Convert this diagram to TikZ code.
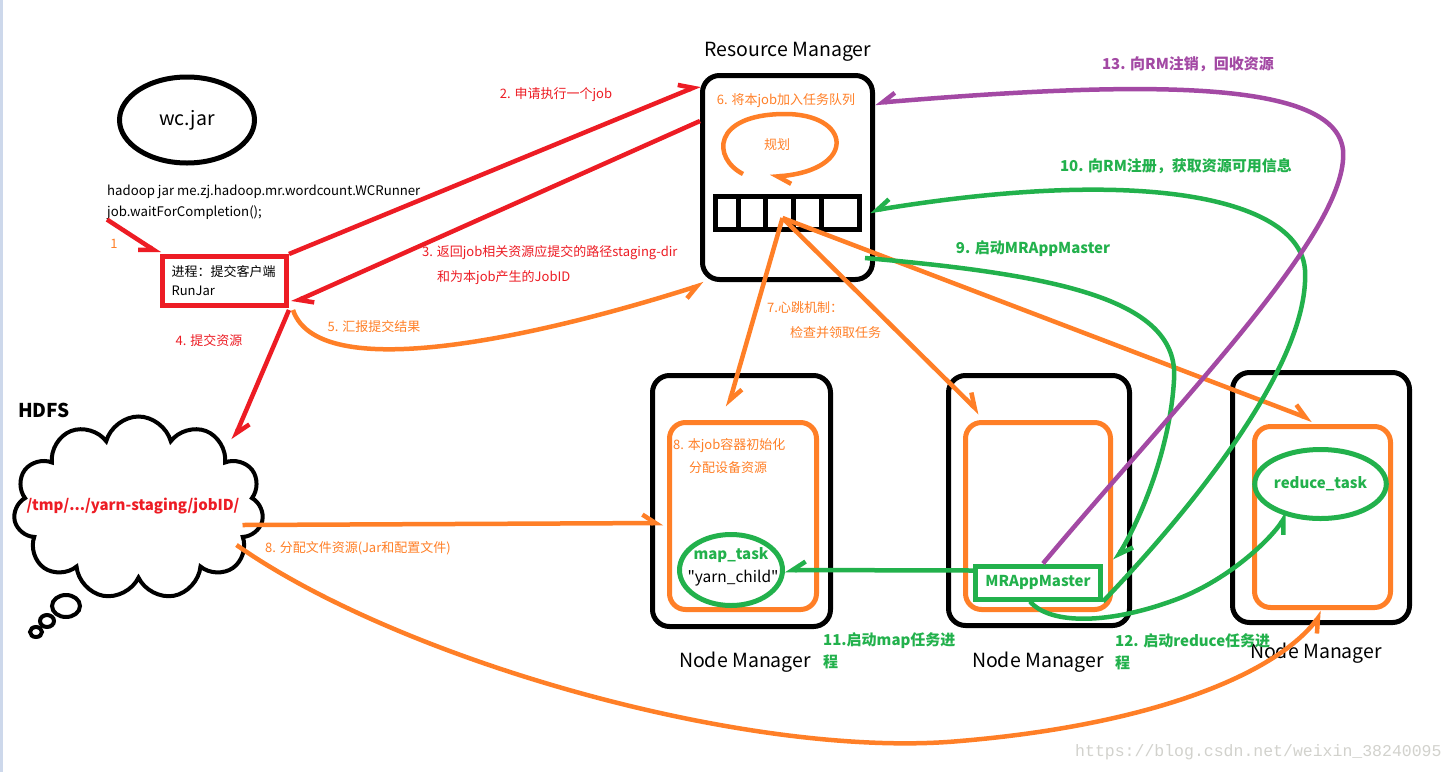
\documentclass[tikz,border=0pt]{standalone}
\usepackage{fontspec}
\setmainfont{Noto Sans CJK SC}
\newfontfamily\plainfont{Noto Sans CJK SC}
\newfontfamily\wmfont{Liberation Mono}
\usetikzlibrary{arrows.meta,calc,shapes.geometric,shapes.symbols}

\definecolor{pred}{RGB}{237,28,36}
\definecolor{porange}{RGB}{255,127,39}
\definecolor{pgreen}{RGB}{34,177,76}
\definecolor{ppurple}{RGB}{163,73,164}
\definecolor{wmgray}{RGB}{210,210,205}
\definecolor{edgeblue}{RGB}{205,216,235}

\tikzset{
  box/.style={draw, line width=5pt, rounded corners=17pt, inner sep=0pt},
  obox/.style={draw=porange, line width=5pt, rounded corners=16pt, inner sep=0pt},
  hand/.style={line width=4.5pt, -{Straight Barb[harpoon, length=13pt, width=17pt]}},
  handr/.style={line width=4.5pt, -{Straight Barb[harpoon, swap, length=13pt, width=17pt]}},
  lbl/.style={inner sep=0pt, font=\fontsize{13}{25}\selectfont},
  glbl/.style={inner sep=0pt, text=pgreen, font=\bfseries\fontsize{15}{22}\selectfont},
  mgr/.style={inner sep=0pt, font=\fontsize{19.5}{24}\selectfont},
}

\begin{document}
\begin{tikzpicture}[x=1pt, y=-1pt]
    \useasboundingbox (0,0) rectangle (1456,772);
    \fill[white] (0,0) rectangle (1456,772);
    \fill[edgeblue] (0,0) rectangle (3,772);

    % client
    \node[draw, ellipse, line width=5pt, minimum width=135pt, minimum height=86pt, mgr] (wcjar) at (187,120) {wc.jar};
    \node[lbl, font=\fontsize{13.2}{21}\selectfont, align=left, anchor=west] (cmd) at (107,202) {hadoop jar me.zj.hadoop.mr.wordcount.WCRunner\\job.waitForCompletion();};
    \node[lbl, text=porange] (one) at (114,244) {1};
    \node[draw=pred, line width=5pt, lbl, font=\fontsize{13}{19}\selectfont, minimum width=124pt, minimum height=49pt, text width=106pt, align=left] (client) at (224.5,281) {进程：提交客户端\\RunJar};

    % resource manager
    \node[box, minimum width=170pt, minimum height=204pt] (rm) at (787.5,177.5) {};
    \node[mgr] (rmname) at (788,52) {Resource Manager};
    \node[lbl, text=porange] (enqueue) at (786,101) {6. 将本job加入任务队列};
    \node[lbl, text=porange] (plan) at (777,145) {规划};
    \node[draw, line width=5pt, minimum width=144pt, minimum height=33pt, inner sep=0pt] (queue) at (787.5,213) {};
    \foreach \d in {25,52,80,108}
        \draw[line width=5pt] ($(queue.north west)+(\d,0)$) -- ($(queue.south west)+(\d,0)$);
    \draw[hand, draw=porange] ($(plan)+(-34,29)$) .. controls ($(plan)+(-65,13)$) and ($(plan)+(-65,-30)$) .. ($(plan)+(6,-31)$)
        .. controls ($(plan)+(75,-32)$) and ($(plan)+(81,25)$) .. ($(plan)+(-7,32)$);

    % HDFS
    \node[inner sep=0pt, font=\bfseries\fontsize{19}{23}\selectfont] (hdfsname) at (44,410) {HDFS};
    \node[cloud, draw, line width=4pt, cloud puffs=11, aspect=1.4, minimum width=250pt, minimum height=183pt, inner sep=0pt] (hdfs) at (138.5,508) {};
    \node[glbl, text=pred] (stagingdir) at (133,506) {/tmp/.../yarn-staging/jobID/};
    \draw[line width=4pt] (66,606) ellipse [x radius=14, y radius=11];
    \draw[line width=4pt] (47,621) ellipse [x radius=7, y radius=6];
    \draw[line width=4pt] (36,632) ellipse [x radius=6, y radius=5];

    % node managers
    \node[box, minimum width=178pt, minimum height=251pt] (nm1) at (741.5,501) {};
    \node[obox, minimum width=147pt, minimum height=187pt] (nm1in) at (743,516) {};
    \node[box, minimum width=181pt, minimum height=250pt] (nm2) at (1039,500.5) {};
    \node[obox, minimum width=145pt, minimum height=187pt] (nm2in) at (1038,516) {};
    \node[box, minimum width=177pt, minimum height=250pt] (nm3) at (1321,497.5) {};
    \node[obox, minimum width=136pt, minimum height=181pt] (nm3in) at (1322.5,517) {};
    \node[mgr] (nm1name) at (745,662) {Node Manager};
    \node[mgr] (nm2name) at (1038,662) {Node Manager};
    \node[mgr] (nm3name) at (1316,653) {Node Manager};

    \node[lbl, font=\fontsize{13}{23}\selectfont, text=porange, align=left, anchor=west] (init) at (673,456.5) {8. 本job容器初始化\\\hspace*{16pt}分配设备资源};
    \node[draw=pgreen, ellipse, line width=5pt, minimum width=103pt, minimum height=71pt, inner sep=0pt] (maptask) at (731,570) {};
    \node[glbl] (mapname) at (731,555) {map\_task};
    \node[lbl, font=\plainfont\fontsize{15.5}{20}\selectfont] (yarnchild) at (733,578) {"yarn\_child"};
    \node[draw=pgreen, line width=5pt, minimum width=125pt, minimum height=33pt, glbl] (mram) at (1038,582.5) {MRAppMaster};
    \node[draw=pgreen, ellipse, line width=5pt, minimum width=104pt, minimum height=69pt, glbl] (reduce) at (1320.5,484) {reduce\_task};

    % labels
    \node[lbl, text=pred] (l2) at (556,95) {2. 申请执行一个job};
    \node[lbl, text=pred, align=left, anchor=west] (l3) at (422,265.5) {3. 返回job相关资源应提交的路径staging-dir\\\hspace*{15pt}和为本job产生的JobID};
    \node[lbl, text=pred] (l4) at (209,341) {4. 提交资源};
    \node[lbl, text=porange] (l5) at (374,327) {5. 汇报提交结果};
    \node[lbl, text=porange, align=left, anchor=west] (l7) at (767,320.5) {7.心跳机制：\\\hspace*{23pt}检查并领取任务};
    \node[lbl, text=porange, anchor=west] (l8) at (265,548) {8. 分配文件资源(Jar和配置文件)};
    \node[glbl] (l9) at (1033,249) {9. 启动MRAppMaster};
    \node[glbl] (l10) at (1176,166) {10. 向RM注册，获取资源可用信息};
    \node[glbl, align=left, anchor=west] (l11) at (823,651) {11.启动map任务进\\程};
    \node[glbl, align=left, anchor=west] (l12) at (1115,651.5) {12. 启动reduce任务进\\程};
    \node[glbl, text=ppurple] (l13) at (1188,64) {13. 向RM注销，回收资源};

    \node[inner sep=0pt, text=wmgray, font=\wmfont\fontsize{16.5}{20}\selectfont, anchor=west] (wm) at (1075,752) {https://blog.csdn.net/weixin\_38240095};

    % steps 1-5
    \draw[handr, draw=pred] (cmd.south west) -- (client.north west);
    \draw[hand, draw=pred] (client.north east) -- ($(rm.north west)+(0,12)$);
    \draw[hand, draw=pred] ($(rm.north west)+(0,48)$) -- ($(client.south east)+(3,-5)$);
    \draw[hand, draw=pred] ($(client.south east)+(0,2)$) -- ($(hdfs.center)+(95,-68)$);
    \draw[handr, draw=porange] ($(client.south east)+(4,2)$) .. controls (320,390) and (560,330) .. ($(rm.south west)+(4,2)$);

    % heartbeat
    \draw[hand, draw=porange] ($(queue)+(-5,5)$) -- ($(nm1in.north)+(-15,-13)$);
    \draw[hand, draw=porange] ($(queue)+(-5,5)$) -- ($(nm2in.north west)+(17,-7)$);
    \draw[hand, draw=porange] ($(queue)+(-5,5)$) -- ($(nm3in.north)+(-10,-4)$);

    % resources from HDFS
    \draw[hand, draw=porange] ($(hdfs.center)+(104,17)$) -- ($(nm1in.west)+(-4,7)$);
    \draw[handr, draw=porange] ($(hdfs.center)+(98,37)$) .. controls (400,660) and (750,760) .. (960,741)
        .. controls (1150,725) and (1275,675) .. ($(nm3in.south)+(0,2)$);

    % app master
    \draw[hand, draw=pgreen] ($(rm.south east)+(-10,-24)$) .. controls (1060,275) and (1180,300) .. (1174,380)
        .. controls (1170,450) and (1140,520) .. ($(mram.north east)+(12,-3)$);
    \draw[handr, draw=pgreen] (mram.south east) .. controls (1200,500) and (1310,360) .. (1305,270)
        .. controls (1300,200) and (1150,165) .. ($(queue.east)+(8,-2)$);
    \draw[handr, draw=pgreen] ($(mram.west)+(0,-12)$) -- (maptask.east);
    \draw[handr, draw=pgreen] ($(mram.south)+(-8,0)$) .. controls (1050,625) and (1110,625) .. (1180,598)
        .. controls (1230,578) and (1270,540) .. ($(reduce.center)+(-33,29)$);
    \draw[handr, draw=ppurple] ($(mram.north)+(5,0)$) .. controls (1180,400) and (1350,230) .. (1343,150)
        .. controls (1335,80) and (1150,80) .. ($(rm.north east)+(0,30)$);
\end{tikzpicture}
\end{document}
